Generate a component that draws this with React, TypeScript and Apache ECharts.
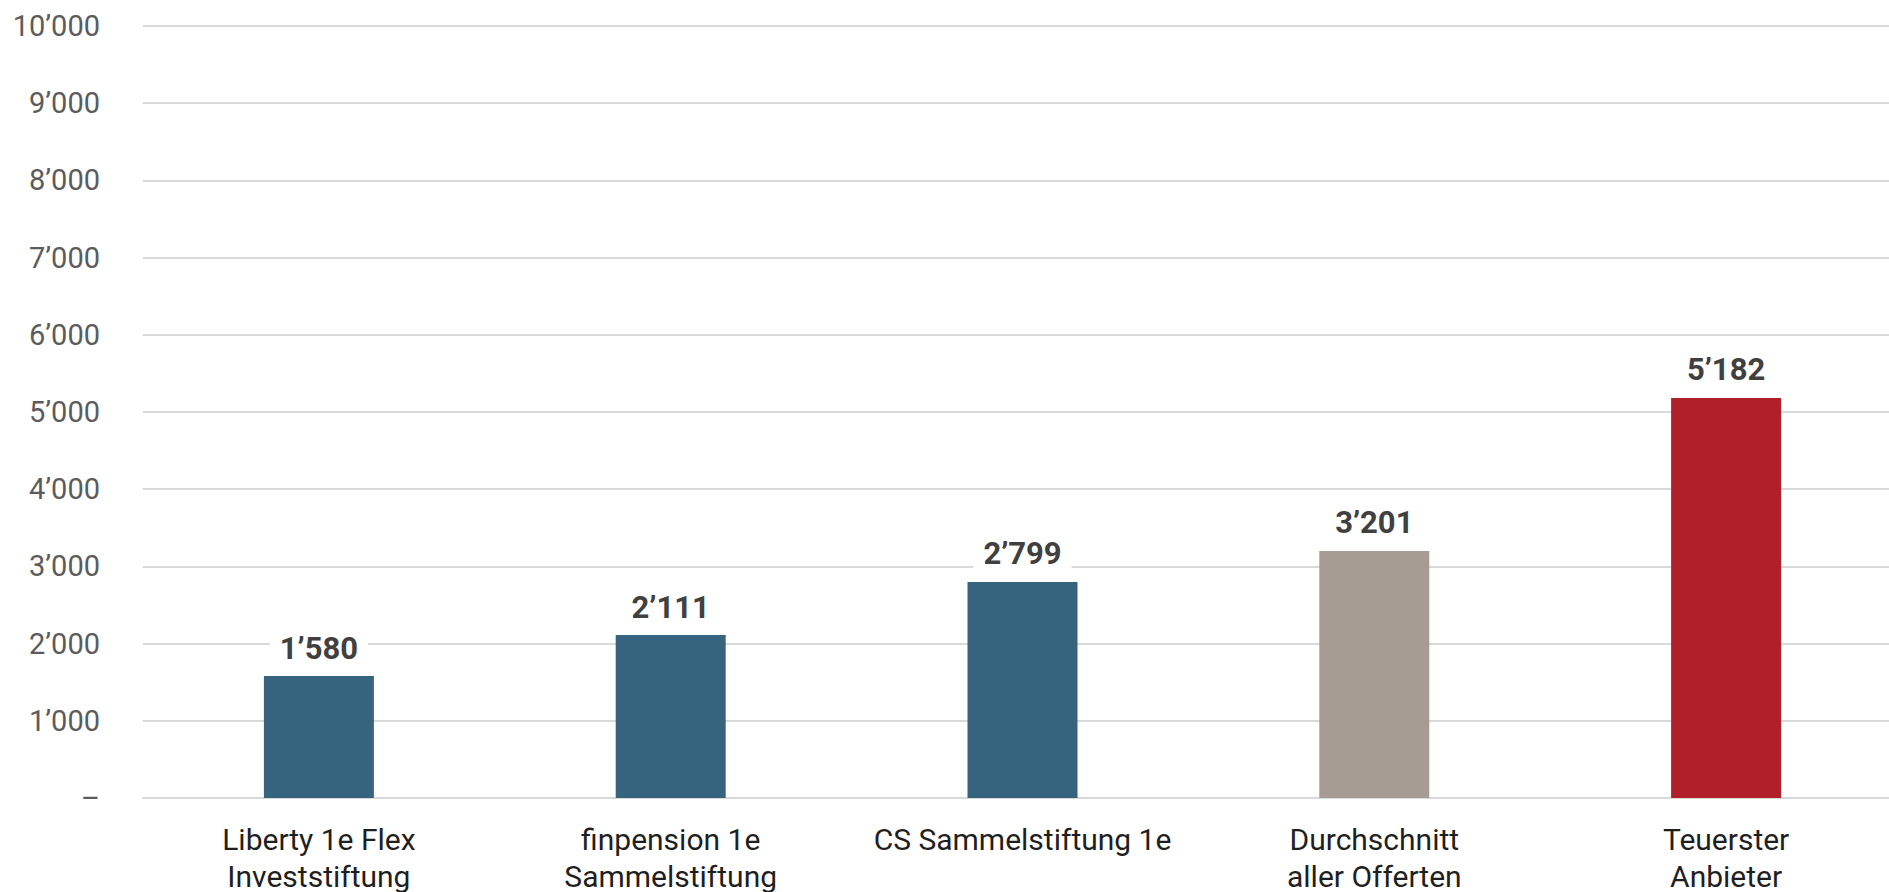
import React, { useEffect, useRef } from "react";
import * as echarts from "echarts";

const categories = [
  "Liberty 1e Flex\nInveststiftung",
  "finpension 1e\nSammelstiftung",
  "CS Sammelstiftung 1e",
  "Durchschnitt\naller Offerten",
  "Teuerster\nAnbieter",
];
const values = [1580, 2111, 2799, 3201, 5182];
const barColors = ["#36637e", "#36637e", "#36637e", "#a69c93", "#b01f2a"];

const fmt = (v: number) => {
  if (v === 0) return "–";
  const s = Math.round(v).toString();
  return s.replace(/\B(?=(\d{3})+(?!\d))/g, "’");
};

export default function App() {
  const ref = useRef<HTMLDivElement>(null);
  useEffect(() => {
    if (!ref.current) return;
    const chart = echarts.init(ref.current, null, { renderer: "svg" });
    chart.setOption({
      animation: false,
      grid: {
        left: 143,
        top: 26,
        width: 1759,
        height: 772,
        containLabel: false,
        outerBoundsMode: "none",
      },
      xAxis: {
        type: "category",
        data: categories,
        axisTick: { show: false },
        axisLine: { show: true, lineStyle: { color: "#d9d9d9", width: 2 } },
        axisLabel: {
          color: "#1f1f1f",
          fontFamily: "Roboto",
          fontSize: 30,
          lineHeight: 37,
          margin: 23,
          interval: 0,
        },
      },
      yAxis: {
        type: "value",
        min: 0,
        max: 10000,
        interval: 1000,
        axisLine: { show: false },
        axisTick: { show: false },
        splitLine: { lineStyle: { color: "#d9d9d9", width: 2 } },
        axisLabel: {
          color: "#5c5c5c",
          fontFamily: "Roboto",
          fontSize: 29,
          margin: 43,
          formatter: (v: number) => fmt(v),
        },
      },
      series: [
        {
          type: "bar",
          barWidth: 110,
          data: values.map((v, i) => ({ value: v, itemStyle: { color: barColors[i] } })),
          label: {
            show: true,
            position: "top",
            distance: 10,
            color: "#404040",
            fontFamily: "Roboto",
            fontWeight: "bold",
            fontSize: 31,
            lineHeight: 36,
            backgroundColor: "#ffffff",
            padding: [0, 10],
            formatter: (p: any) => fmt(p.value),
          },
        },
      ],
    });
    return () => chart.dispose();
  }, []);
  return (
    <div
      ref={ref}
      style={{ position: "fixed", left: 0, top: 0, width: 1889, height: 892, background: "#fff" }}
    />
  );
}
